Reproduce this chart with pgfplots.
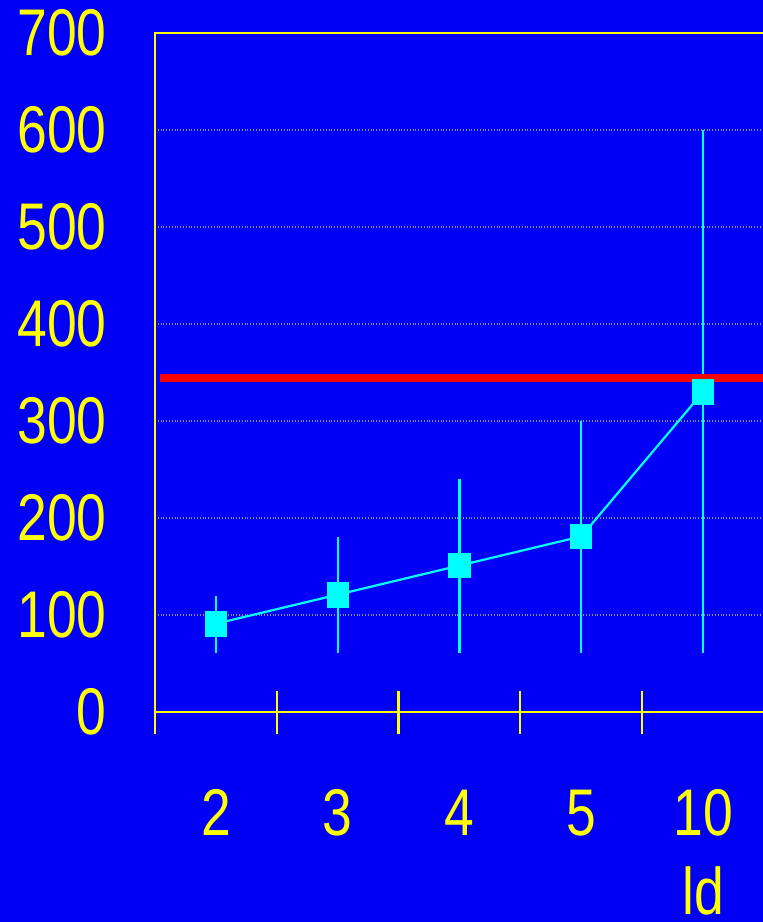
\documentclass[border=0pt]{standalone}
\usepackage{pgfplots}
\pgfplotsset{compat=1.18}
\usepackage{fontspec}
\setmainfont{Liberation Sans}
\definecolor{bg}{RGB}{0,0,245}
\definecolor{yel}{RGB}{255,255,0}
\definecolor{cy}{RGB}{0,255,255}
\definecolor{rd}{RGB}{255,0,0}
\definecolor{grd}{RGB}{140,140,170}
\begin{document}
\begin{tikzpicture}
\fill[bg] (-77.5pt,-105pt) rectangle (304pt,356pt);
\begin{axis}[
  at={(0pt,0pt)}, anchor=south west,
  scale only axis, width=304.5pt, height=339.5pt,
  xmin=0, xmax=5, ymin=0, ymax=700,
  clip=false,
  axis line style={yel, line width=1.4pt},
  xtick={0.5,1.5,2.5,3.5,4.5}, xticklabels={2,3,4,5,10},
  minor xtick={0,1,2,3,4,5},
  ytick={0,100,...,700},
  major tick length=0pt,
  minor tick length=21.5pt,
  tick align=center,
  xtick pos=bottom, ytick pos=left,
  minor tick style={yel, line width=1.1pt},
  major tick style={draw=none},
  ymajorgrids,
  major grid style={densely dotted, grd, line width=0.6pt},
  /pgf/number format/assume math mode=true,
  xticklabel style={anchor=base, yshift=-61.5pt, xscale=0.81, inner sep=0pt, text=yel, font=\fontsize{33}{40}\selectfont},
  yticklabel style={anchor=east, xshift=-24pt, xscale=0.81, inner sep=0pt, text=yel, font=\fontsize{33}{40}\selectfont},
]
\addplot[cy, line width=1.1pt, mark=square*, mark size=5.9pt,
  mark options={xscale=0.84, cy, solid},
  error bars/.cd, y dir=both, y explicit,
  error bar style={cy, line width=1.1pt}, error mark=none]
  table[x=x, y=y, y error plus=ep, y error minus=em] {
x   y   ep  em
0.5 91  29  30
1.5 121 59  60
2.5 151 89  90
3.5 181 119 120
4.5 330 270 269
};
\addplot[rd, line width=4pt, forget plot] coordinates {(0.04,344) (5,344)};
\node[anchor=base, yshift=-101pt, xscale=0.81, inner sep=0pt, text=yel, font=\fontsize{33}{40}\selectfont] at (axis cs:4.5,0) {ld};
\end{axis}
\pgfresetboundingbox
\path[use as bounding box] (-77.5pt,-105pt) rectangle (304pt,356pt);
\end{tikzpicture}
\end{document}
